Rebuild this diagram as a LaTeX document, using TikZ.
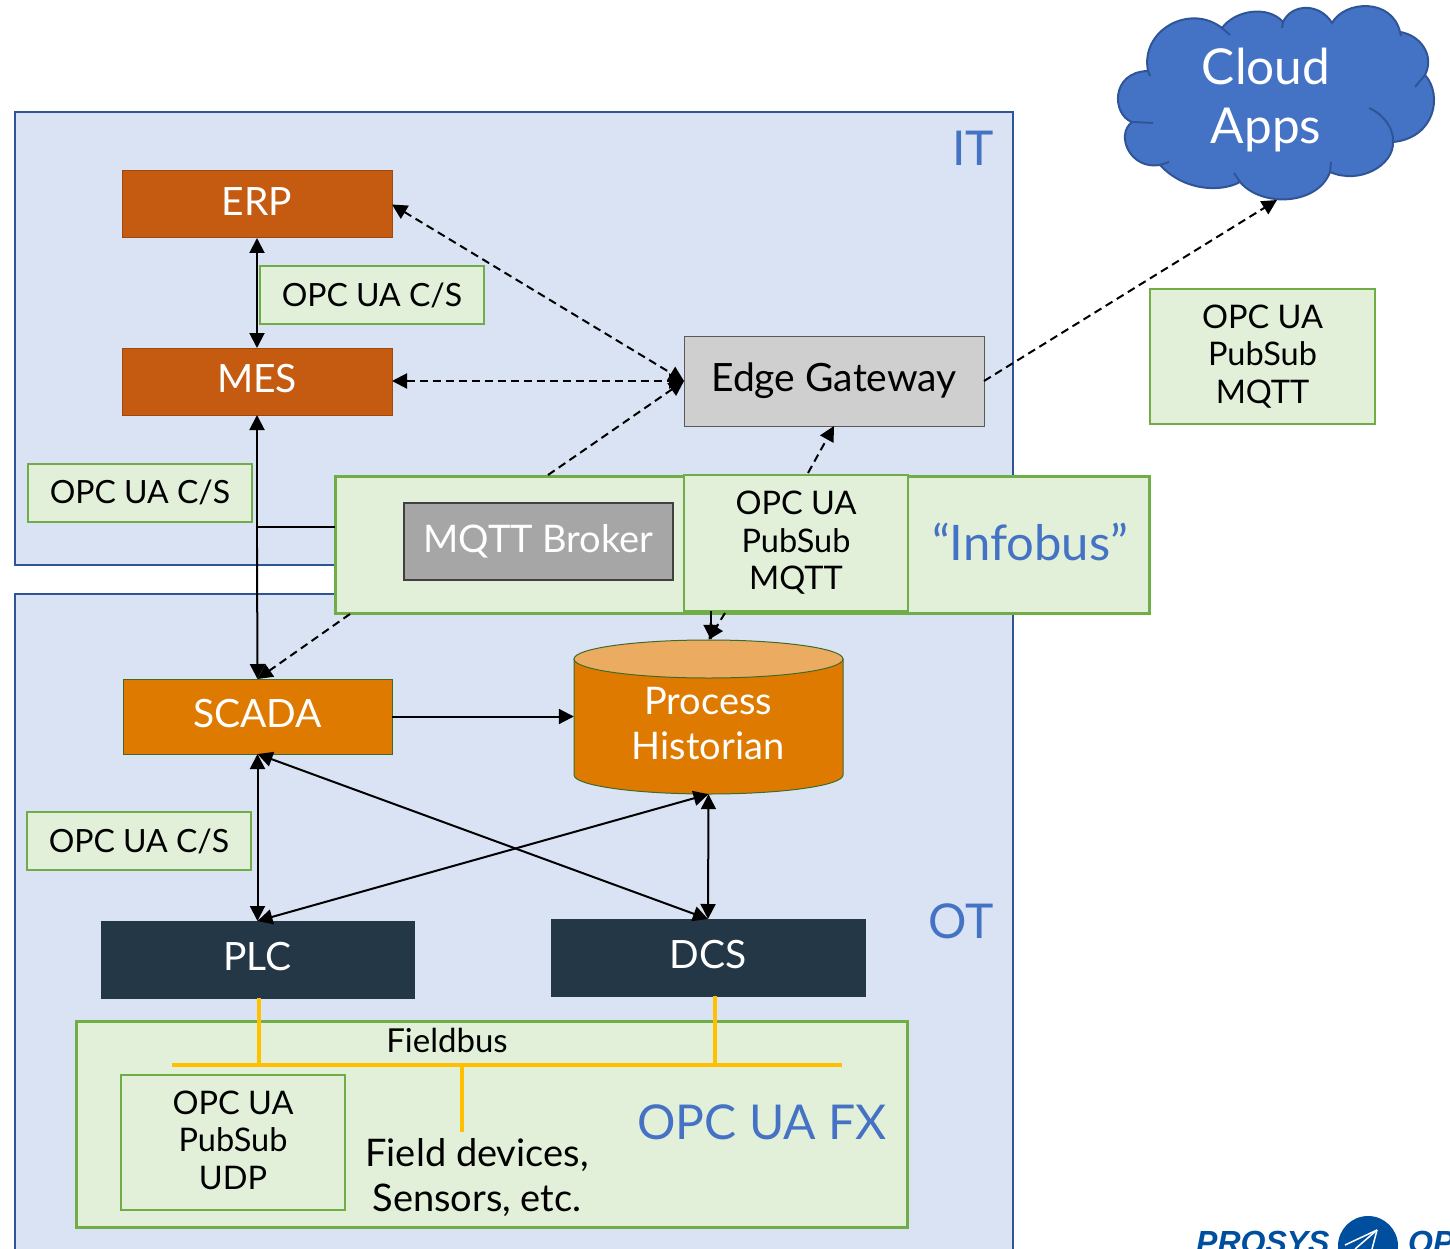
\documentclass[tikz,border=0pt]{standalone}
\usepackage{fontspec}
\setmainfont{Lato}
\newfontfamily\logofont{Liberation Sans}
\usetikzlibrary{arrows.meta}
\definecolor{zoneblue}{HTML}{DAE3F3}
\definecolor{zoneedge}{HTML}{2F5597}
\definecolor{textblue}{HTML}{4472C4}
\definecolor{labelgreen}{HTML}{E2F0D9}
\definecolor{labeledge}{HTML}{70AD47}
\definecolor{itorange}{HTML}{C55A11}
\definecolor{otorange}{HTML}{DF7A00}
\definecolor{otedge}{HTML}{3F6B2A}
\definecolor{histtop}{HTML}{EBAC62}
\definecolor{ctrlnavy}{HTML}{243746}
\definecolor{busyellow}{HTML}{FFC000}
\definecolor{logoblue}{HTML}{004F9F}
\tikzset{
  zone/.style = {draw=zoneedge, fill=zoneblue, line width=2.5pt, inner sep=0pt, outer sep=0pt},
  label/.style = {draw=labeledge, fill=labelgreen, line width=2pt, inner sep=0pt, outer sep=0pt, align=center,
                  font=\fontsize{32.5}{37.5}\selectfont},
  shortlabel/.style = {label, minimum width=224pt, minimum height=58pt, font=\fontsize{32}{37.5}\selectfont},
  unit/.style = {draw=#1, inner sep=0pt, outer sep=0pt, line width=1pt, align=center, text=white,
                 font=\fontsize{39}{45}\selectfont},
  caption/.style = {text=textblue, inner sep=0pt, font=\fontsize{48}{56}\selectfont},
  plain/.style = {inner sep=0pt, align=center, font=\fontsize{38}{45}\selectfont},
  link/.style = {line width=2pt, {Triangle[length=15pt,width=15pt]}-{Triangle[length=15pt,width=15pt]}},
  feed/.style = {line width=2pt, -{Triangle[length=15pt,width=15pt]}},
  lan/.style = {dash pattern=on 8pt off 5pt},
  bus/.style = {draw=busyellow, line width=3.5pt},
  cloudline/.style = {draw=zoneedge, line width=2pt},
  logotext/.style = {anchor=base west, inner sep=0pt, text=logoblue, draw=none, font=\fontsize{32}{40}\logofont\bfseries\itshape}
}
\begin{document}
\begin{tikzpicture}[x=1pt,y=-1pt]
	\useasboundingbox (0,0) rectangle (1450,1249);
	\clip (0,0) rectangle (1450,1249);

	% Zones
	\node[zone, minimum width=998pt, minimum height=453pt] (itzone) at (514,338.5) {};
	\node[zone, minimum width=998pt, minimum height=700pt] (otzone) at (514,944) {};
	\node[caption] (itname) at (973,148) {IT};
	\node[caption] (otname) at (961,921) {OT};

	% Cloud
	\draw[fill=textblue, cloudline] (1148,71)
		.. controls (1140,30) and (1190,3) .. (1222,28)
		.. controls (1235,10) and (1268,5) .. (1283,22)
		.. controls (1292,3) and (1320,3) .. (1332,23)
		.. controls (1345,0) and (1392,-2) .. (1400,32)
		.. controls (1420,35) and (1435,55) .. (1425,75)
		.. controls (1443,95) and (1435,138) .. (1393,142)
		.. controls (1394,165) and (1360,185) .. (1330,172)
		.. controls (1318,205) and (1262,208) .. (1240,182)
		.. controls (1222,192) and (1185,192) .. (1160,165)
		.. controls (1130,170) and (1115,135) .. (1132,122)
		.. controls (1112,115) and (1110,72) .. cycle;
	\draw[cloudline] (1148,71) -- (1150,76);
	\draw[cloudline] (1222,28) -- (1230,35);
	\draw[cloudline] (1283,22) -- (1282,28);
	\draw[cloudline] (1400,32) -- (1401,36);
	\draw[cloudline] (1425,75) -- (1415,87);
	\draw[cloudline] (1369,108) .. controls (1385,115) and (1394,130) .. (1393,142);
	\draw[cloudline] (1330,172) -- (1331,162);
	\draw[cloudline] (1240,182) -- (1234,173);
	\draw[cloudline] (1160,165) -- (1169,162);
	\draw[cloudline] (1132,122) -- (1153,123);
	\node[plain, text=white, font=\fontsize{49.5}{59}\selectfont] (cloudname) at (1266,100) {Cloud\\Apps};
	\coordinate (cloudin) at (1277,200);

	% IT level
	\node[unit=itorange!80!black, fill=itorange, text depth=6pt, minimum width=270pt, minimum height=67pt] (erp) at (257,204.5) {ERP};
	\node[unit=itorange!80!black, fill=itorange, text depth=6pt, minimum width=270pt, minimum height=67pt] (mes) at (257,381.5) {MES};
	\node[shortlabel] (erpcs) at (372,295) {OPC UA C/S};
	\node[shortlabel] (mescs) at (140,492.5) {OPC UA C/S};
	\node[unit=black!65, fill=black!19, text=black, minimum width=300pt, minimum height=90pt] (gateway) at (834,381) {Edge Gateway};
	\node[label, minimum width=225pt, minimum height=135pt] (cloudps) at (1262.5,356.5) {OPC UA\\PubSub\\MQTT};

	% Infobus
	\node[label, line width=3pt, minimum width=814pt, minimum height=137pt] (infobus) at (742,544.5) {};
	\node[unit=black!75, fill=black!35, line width=1.5pt, font=\fontsize{38}{45}\selectfont, minimum width=269pt, minimum height=77pt] (broker) at (538.5,541.5) {MQTT Broker};
	\node[label, minimum width=224pt, minimum height=136pt] (busps) at (796,543) {OPC UA\\PubSub\\MQTT};
	\node[caption, font=\fontsize{49}{56}\selectfont] (busname) at (1030,542) {“Infobus”};
	\coordinate (busup) at (548,475);
	\coordinate (busdown) at (350,614);
	\coordinate (busgate) at (808,473);
	\coordinate (bushist) at (711,611);
	\coordinate (bushistb) at (725,613);

	% OT level
	\node[unit=otedge, fill=otorange, text depth=6pt, minimum width=269pt, minimum height=75pt] (scada) at (257.5,716.5) {SCADA};
	\draw[draw=otedge, fill=otorange, line width=1pt] (574,659) -- (574,775) arc[start angle=180, end angle=0, x radius=134.5, y radius=19] -- (843,659) -- cycle;
	\draw[draw=otedge, fill=histtop, line width=1pt] (708.5,659) ellipse [x radius=134.5, y radius=19];
	\node[plain, text=white, minimum width=269pt, minimum height=154pt] (historian) at (708.5,717) {};
	\node[plain, text=white] (historianname) at (708,724) {Process\\Historian};
	\node[shortlabel] (scadacs) at (139,841) {OPC UA C/S};
	\node[unit=ctrlnavy, fill=ctrlnavy, text depth=6pt, minimum width=313pt, minimum height=77pt] (plc) at (257.5,959.5) {PLC};
	\node[unit=ctrlnavy, fill=ctrlnavy, text depth=6pt, minimum width=314pt, minimum height=77pt] (dcs) at (708,957.5) {DCS};

	% Field level
	\node[label, line width=3pt, minimum width=831pt, minimum height=206pt] (fx) at (491.5,1124) {};
	\node[label, minimum width=224pt, minimum height=135pt] (fxps) at (233,1142.5) {OPC UA\\PubSub\\\vphantom{Q}UDP};
	\node[plain, font=\fontsize{33}{37}\selectfont] (fieldbus) at (447,1040) {Fieldbus};
	\node[plain] (devices) at (477,1178) {Field devices,\\Sensors, etc.};
	\node[caption] (fxname) at (762,1122) {OPC UA FX};
	\coordinate (busl) at (172,1065);
	\coordinate (busr) at (842,1065);
	\coordinate (busplc) at (259,1065);
	\coordinate (busdcs) at (715,1065);
	\coordinate (busdev) at (462,1065);
	\coordinate (devtop) at (462,1132);
	\draw[bus] (busl) -- (busr);
	\draw[bus] (plc.south -| busplc) -- (busplc);
	\draw[bus] (dcs.south -| busdcs) -- (busdcs);
	\draw[bus] (busdev) -- (devtop);

	% Solid links
	\coordinate (tapa) at (257,527);
	\coordinate (tapb) at (257,548);
	\draw[link] (erp.south) -- (mes.north);
	\draw[feed] (tapb) -- (mes.south);
	\draw[line width=2pt] (infobus.west |- tapa) -- (tapa);
	\draw[feed] (tapb) -- (scada.north);
	\draw[feed] (scada.east) -- (scada.east -| historian.west);
	\draw[feed] (bushist) -- (bushist |- historian.north);
	\draw[link] (scada.south) -- (plc.north);
	\draw[link] (scada.south) -- (dcs.north);
	\draw[link] (historian.south) -- (plc.north);
	\draw[link] (historian.south) -- (dcs.north);

	% Dashed links
	\draw[link, lan] (erp.east) -- (gateway.west);
	\draw[link, lan] (mes.east |- gateway.west) -- (gateway.west);
	\draw[feed, lan] (busup) -- (gateway.west);
	\draw[feed, lan] (gateway.east) -- (cloudin);
	\draw[feed, lan] (busgate) -- (gateway.south);
	\draw[feed, lan] (busdown) -- (scada.north);
	\draw[feed, lan] (bushistb) -- (historian.north);

	% Logo
	\node[logotext] (logoname) at (1196,1253) {PROSYS};
	\node[circle, fill=logoblue, minimum size=60pt, inner sep=0pt] (logoball) at (1368,1246) {};
	\node[logotext] (logoopc) at (1408,1253) {OP};
	\draw[white, line width=1.5pt] (1377,1230) -- (1345,1245);
	\draw[white, line width=1.5pt] (1377,1230) -- (1355,1249);
	\draw[white, line width=1.5pt] (1377,1230) -- (1372,1249);
\end{tikzpicture}
\end{document}
